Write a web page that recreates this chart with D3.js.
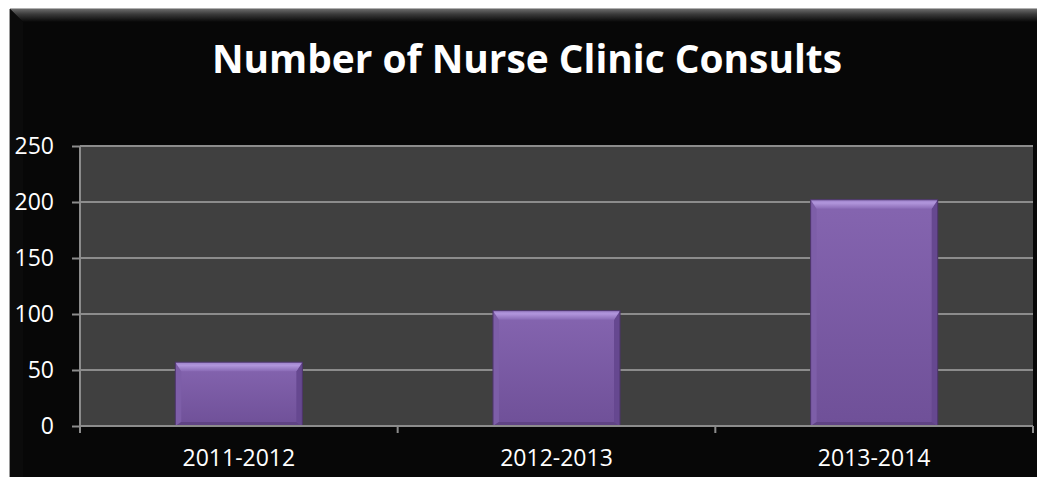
<!DOCTYPE html>
<html>
<head>
<meta charset="utf-8">
<script src="https://cdn.jsdelivr.net/npm/d3@7"></script>
<style>
  body { margin: 0; background: #fff; }
  svg { display: block; }
  text { font-family: "Open Sans", sans-serif; fill: #fff; }
</style>
</head>
<body>
<svg width="1037" height="477"></svg>
<script>
var categories = ["2011-2012", "2012-2013", "2013-2014"];
var consults = [57, 103, 202];
var yTicks = [0, 50, 100, 150, 200, 250];
var title = "Number of Nurse Clinic Consults";

var svg = d3.select("svg"),
    plotLeft = 80, plotRight = 1033,
    plotTop = 146, plotBottom = 426;

var defs = svg.append("defs");

// black chart area with bevelled top edge
var bevTop = defs.append("linearGradient").attr("id", "bevTop")
    .attr("x1", 0).attr("y1", 0).attr("x2", 0).attr("y2", 1);
bevTop.append("stop").attr("offset", "0%").attr("stop-color", "#6a6a6a");
bevTop.append("stop").attr("offset", "40%").attr("stop-color", "#3a3a3a");
bevTop.append("stop").attr("offset", "100%").attr("stop-color", "#070707");

svg.append("rect")
    .attr("x", 10).attr("y", 9)
    .attr("width", 1037).attr("height", 477)
    .attr("fill", "#070707");
svg.append("polygon")
    .attr("points", "10,9 1037,9 1037,22 23,22")
    .attr("fill", "url(#bevTop)");
svg.append("polygon")
    .attr("points", "10,9 23,22 23,477 10,477")
    .attr("fill", "#0b0b0b");
svg.append("line")
    .attr("x1", 9.5).attr("y1", 9).attr("x2", 9.5).attr("y2", 477)
    .attr("stroke", "#9a9a9a").attr("stroke-width", 1);
svg.append("line")
    .attr("x1", 10).attr("y1", 8.5).attr("x2", 1037).attr("y2", 8.5)
    .attr("stroke", "#b0b0b0").attr("stroke-width", 1);

svg.append("text")
    .attr("x", 527).attr("y", 73)
    .attr("text-anchor", "middle")
    .attr("font-size", 39)
    .attr("font-weight", "bold")
    .attr("textLength", 630)
    .attr("lengthAdjust", "spacingAndGlyphs")
    .text(title);

var x = d3.scaleBand().domain(categories).range([plotLeft, plotRight])
    .paddingInner(0.6).paddingOuter(0.3);
var y = d3.scaleLinear().domain([0, 250]).range([plotBottom, plotTop]);

// plot area
svg.append("rect")
    .attr("x", plotLeft).attr("y", plotTop)
    .attr("width", plotRight - plotLeft).attr("height", plotBottom - plotTop)
    .attr("fill", "#404040");

// gridlines + y axis
var yAxis = svg.append("g")
    .attr("transform", "translate(" + plotLeft + ",0)")
    .call(d3.axisLeft(y).tickValues(yTicks)
        .tickSize(8).tickPadding(18));
yAxis.select(".domain").attr("stroke", "#8c8c8c").attr("stroke-width", 2)
    .attr("d", "M0," + plotTop + "V" + plotBottom);
yAxis.selectAll(".tick line").attr("stroke", "#8c8c8c").attr("stroke-width", 2);
yAxis.selectAll(".tick text")
    .attr("fill", "#fff").attr("font-size", 23)
    .attr("font-family", "Open Sans, sans-serif");

svg.append("g").selectAll("line")
    .data(yTicks.filter(d => d > 0))
    .enter().append("line")
    .attr("x1", plotLeft).attr("x2", plotRight)
    .attr("y1", d => y(d)).attr("y2", d => y(d))
    .attr("stroke", "#8c8c8c").attr("stroke-width", 2);

// bars
var face = defs.append("linearGradient").attr("id", "face")
    .attr("x1", 0).attr("y1", 0).attr("x2", 0).attr("y2", 1);
face.append("stop").attr("offset", "0%").attr("stop-color", "#8565b0");
face.append("stop").attr("offset", "100%").attr("stop-color", "#6f5098");

var topBev = defs.append("linearGradient").attr("id", "topBev")
    .attr("x1", 0).attr("y1", 0).attr("x2", 0).attr("y2", 1);
topBev.append("stop").attr("offset", "0%").attr("stop-color", "#9a7fc8");
topBev.append("stop").attr("offset", "35%").attr("stop-color", "#b196dc");
topBev.append("stop").attr("offset", "100%").attr("stop-color", "#8a6bb6");

var bev = 9, sideBev = 6;
var bars = svg.append("g").selectAll("g")
    .data(consults)
    .enter().append("g");

bars.append("rect")
    .attr("x", (d, i) => x(categories[i]))
    .attr("y", d => y(d))
    .attr("width", x.bandwidth())
    .attr("height", d => plotBottom - y(d))
    .attr("fill", "url(#face)");

function pts(arr) { return arr.map(p => p.join(",")).join(" "); }

bars.append("polygon")
    .attr("points", function (d, i) {
        var x0 = x(categories[i]), y0 = y(d);
        return pts([[x0, y0], [x0 + sideBev, y0 + bev], [x0 + sideBev, plotBottom - 4], [x0, plotBottom]]);
    })
    .attr("fill", "#7d5ea8");
bars.append("polygon")
    .attr("points", function (d, i) {
        var x1 = x(categories[i]) + x.bandwidth(), y0 = y(d);
        return pts([[x1, y0], [x1 - sideBev, y0 + bev], [x1 - sideBev, plotBottom - 4], [x1, plotBottom]]);
    })
    .attr("fill", "#664890");
bars.append("polygon")
    .attr("points", function (d, i) {
        var x0 = x(categories[i]), x1 = x0 + x.bandwidth();
        return pts([[x0, plotBottom], [x0 + sideBev, plotBottom - 4], [x1 - sideBev, plotBottom - 4], [x1, plotBottom]]);
    })
    .attr("fill", "#5f4384");
bars.append("polygon")
    .attr("points", function (d, i) {
        var x0 = x(categories[i]), x1 = x0 + x.bandwidth(), y0 = y(d);
        return pts([[x0, y0], [x1, y0], [x1 - sideBev, y0 + bev], [x0 + sideBev, y0 + bev]]);
    })
    .attr("fill", "url(#topBev)");
bars.append("rect")
    .attr("x", (d, i) => x(categories[i]))
    .attr("y", d => y(d))
    .attr("width", x.bandwidth())
    .attr("height", d => plotBottom - y(d))
    .attr("fill", "none")
    .attr("stroke", "#4b3468").attr("stroke-width", 1);

// x axis
var xAxis = svg.append("g")
    .attr("transform", "translate(0," + plotBottom + ")")
    .call(d3.axisBottom(x).tickSize(0).tickPadding(24));
xAxis.select(".domain").attr("stroke", "#8c8c8c").attr("stroke-width", 2)
    .attr("d", "M" + plotLeft + ",0H" + plotRight);
xAxis.selectAll(".tick text")
    .attr("fill", "#fff").attr("font-size", 23)
    .attr("font-family", "Open Sans, sans-serif");

var step = x.step();
svg.append("g").selectAll("line")
    .data(d3.range(categories.length + 1))
    .enter().append("line")
    .attr("x1", i => plotLeft + i * step).attr("x2", i => plotLeft + i * step)
    .attr("y1", plotBottom).attr("y2", plotBottom + 7)
    .attr("stroke", "#8c8c8c").attr("stroke-width", 2);
</script>
</body>
</html>
